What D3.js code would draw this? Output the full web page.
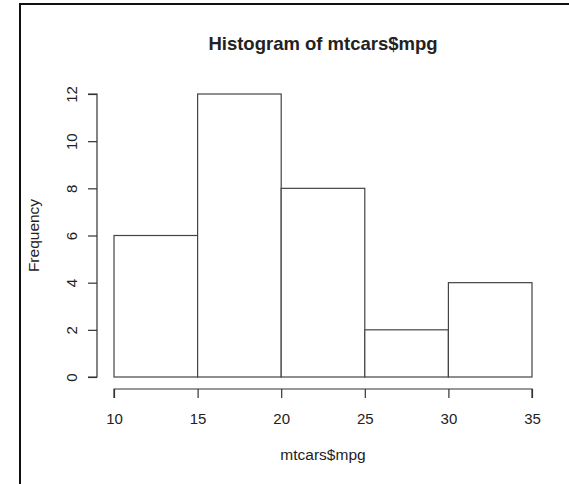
<!DOCTYPE html>
<html>
<head>
<meta charset="utf-8">
<script src="https://cdn.jsdelivr.net/npm/d3@7"></script>
<style>
  html, body { margin: 0; padding: 0; background: #fff; }
  svg { display: block; }
  text { font-family: Arial, "Liberation Sans", sans-serif; fill: #222; }
</style>
</head>
<body>
<script>
// Histogram of mtcars$mpg: bin edges and counts per bin
const breaks = [10, 15, 20, 25, 30, 35];
const counts = [6, 12, 8, 2, 4];
const xTicks = [10, 15, 20, 25, 30, 35];
const yTicks = [0, 2, 4, 6, 8, 10, 12];
const titleText = "Histogram of mtcars$mpg";
const xLabel = "mtcars$mpg";
const yLabel = "Frequency";

const W = 569, H = 484;
const svg = d3.select("body").append("svg").attr("width", W).attr("height", H);

// outer frame (only left and top edges fall inside the window)
svg.append("rect")
  .attr("x", 20).attr("y", 4)
  .attr("width", W + 20).attr("height", H + 20)
  .attr("fill", "none").attr("stroke", "#111").attr("stroke-width", 2);

const x = d3.scaleLinear().domain([10, 35]).range([114, 532]);
const y = d3.scaleLinear().domain([0, 12]).range([377, 94]);

const bins = counts.map((c, i) => ({ x0: breaks[i], x1: breaks[i + 1], n: c }));

// bars
svg.append("g").selectAll("rect").data(bins).join("rect")
  .attr("x", d => x(d.x0))
  .attr("y", d => y(d.n))
  .attr("width", d => x(d.x1) - x(d.x0))
  .attr("height", d => y(0) - y(d.n))
  .attr("fill", "#fff")
  .attr("stroke", "#444")
  .attr("stroke-width", 1.2);

// x axis, offset below the bars
const xAxis = svg.append("g").attr("transform", "translate(0,389)")
  .call(d3.axisBottom(x).tickValues(xTicks).tickFormat(d3.format("d")).tickSize(9).tickPadding(12));
xAxis.select(".domain").attr("stroke", "#333").attr("stroke-width", 1.2)
  .attr("d", `M${x(10)},9V0H${x(35)}V9`);
xAxis.selectAll(".tick line").attr("stroke", "#333").attr("stroke-width", 1.2);
xAxis.selectAll(".tick text").attr("font-size", 15).attr("fill", "#222")
  .attr("font-family", "Arial, 'Liberation Sans', sans-serif")
  .attr("dy", null).attr("y", 0)
  .attr("transform", "translate(0,35)");

// y axis, offset left of the bars
const yAxis = svg.append("g").attr("transform", "translate(97,0)")
  .call(d3.axisLeft(y).tickValues(yTicks).tickFormat(d3.format("d")).tickSize(9));
yAxis.select(".domain").attr("stroke", "#333").attr("stroke-width", 1.2)
  .attr("d", `M-9,${y(0)}H0V${y(12)}H-9`);
yAxis.selectAll(".tick line").attr("stroke", "#333").attr("stroke-width", 1.2);
yAxis.selectAll(".tick text")
  .attr("font-size", 15).attr("fill", "#222")
  .attr("font-family", "Arial, 'Liberation Sans', sans-serif")
  .attr("x", null).attr("dy", null)
  .attr("text-anchor", "middle")
  .attr("transform", "translate(-20,0) rotate(-90)");

// title and axis labels
svg.append("text")
  .attr("x", x(22.5)).attr("y", 50)
  .attr("text-anchor", "middle")
  .attr("font-size", 18.5).attr("font-weight", "bold")
  .text(titleText);

svg.append("text")
  .attr("x", x(22.5)).attr("y", 460)
  .attr("text-anchor", "middle")
  .attr("font-size", 15.5)
  .text(xLabel);

svg.append("text")
  .attr("transform", `translate(39,${(y(0) + y(12)) / 2}) rotate(-90)`)
  .attr("text-anchor", "middle")
  .attr("font-size", 15.5)
  .text(yLabel);
</script>
</body>
</html>
